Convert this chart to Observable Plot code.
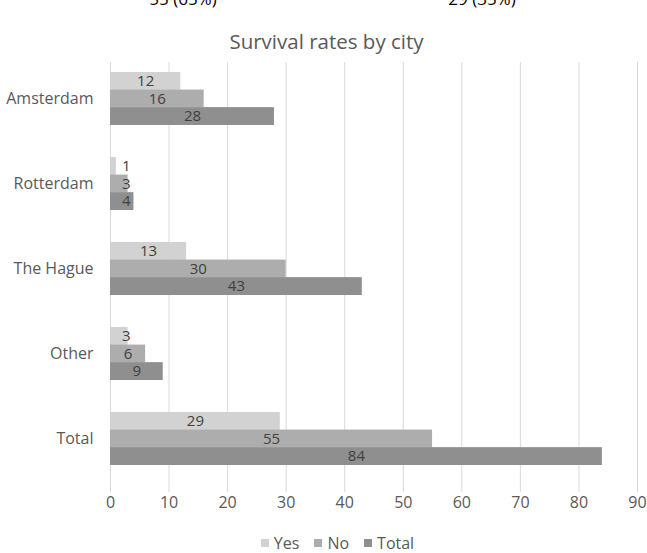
<!DOCTYPE html>
<html>
<head>
<meta charset="utf-8">
<script src="https://cdn.jsdelivr.net/npm/d3@7"></script>
<script src="https://cdn.jsdelivr.net/npm/@observablehq/plot@0.6"></script>
<style>
  html, body { margin: 0; padding: 0; background: #fff; }
  #wrap { position: relative; width: 647px; height: 553px; overflow: hidden; font-family: "Open Sans", sans-serif; }
  .cut { position: absolute; top: -13px; font-size: 17px; color: #000; transform: translateX(-50%); white-space: nowrap; }
  #title { position: absolute; top: 27px; left: 3px; width: 647px; text-align: center; font-size: 20.5px; color: #595959; }
  #chart { position: absolute; top: 0; left: 0; }
  #legend { position: absolute; top: 533px; left: 14px; width: 647px; display: flex; justify-content: center; gap: 15px; font-size: 16px; color: #595959; line-height: 20px; }
  #legend span.item { display: flex; align-items: center; }
  #legend i { display: inline-block; width: 8px; height: 8px; margin-right: 5px; }
</style>
</head>
<body>
<div id="wrap">
  <div class="cut" id="cut1"></div>
  <div class="cut" id="cut2"></div>
  <div id="chart"></div>
  <div id="title"></div>
  <div id="legend"></div>
</div>
<script>
const titleText = "Survival rates by city";
const cutLabels = ["55 (65%)", "29 (35%)"];
const cities = ["Amsterdam", "Rotterdam", "The Hague", "Other", "Total"];
const series = ["Yes", "No", "Total"];
const yesValues = [12, 1, 13, 3, 29];
const noValues = [16, 3, 30, 6, 55];
const totalValues = [28, 4, 43, 9, 84];
const xTicks = [0, 10, 20, 30, 40, 50, 60, 70, 80, 90];
const colors = ["#d2d2d2", "#adadad", "#8f8f8f"];

document.getElementById("title").textContent = titleText;
const c1 = document.getElementById("cut1"); c1.textContent = cutLabels[0]; c1.style.left = "183px";
const c2 = document.getElementById("cut2"); c2.textContent = cutLabels[1]; c2.style.left = "482px";

const valuesBySeries = [yesValues, noValues, totalValues];
const data = series.map((s, k) => cities.map((c, i) => ({city: c, series: s, value: valuesBySeries[k][i]})));

const height = 520, marginTop = 55.5, marginBottom = 39.5;
const pInner = 0.38, pOuter = 0.19;
const step = (height - marginTop - marginBottom) / (cities.length - pInner + 2 * pOuter);
const bw = step * (1 - pInner);
const third = bw / 3;

const marks = [
  Plot.ruleX(xTicks, {stroke: "#d9d9d9", strokeWidth: 1, insetTop: 6.5, insetBottom: -11.5}),
  Plot.axisX({ticks: xTicks, tickSize: 0, tickPadding: 16, fontSize: 16, fill: "#595959", label: null}),
  Plot.axisY({tickSize: 0, tickPadding: 17, fontSize: 16, fill: "#595959", label: null})
];
series.forEach((s, k) => {
  marks.push(Plot.barX(data[k], {
    y: "city", x: "value", fill: colors[k],
    insetTop: k * third, insetBottom: (2 - k) * third
  }));
});
series.forEach((s, k) => {
  marks.push(Plot.text(data[k], {
    y: "city", x: d => Math.max(d.value / 2, 2.7), text: d => String(d.value),
    dy: (k - 1) * third, fill: "#404040", fontSize: 15, textAnchor: "middle"
  }));
});

const chart = Plot.plot({
  width: 647, height, marginLeft: 110, marginRight: 10, marginTop, marginBottom,
  style: {fontFamily: "Open Sans", background: "transparent", color: "#595959"},
  x: {domain: [0, 90], axis: null},
  y: {domain: cities, paddingInner: pInner, paddingOuter: pOuter, axis: null},
  marks
});
document.getElementById("chart").appendChild(chart);

const legend = document.getElementById("legend");
series.forEach((s, k) => {
  const item = document.createElement("span");
  item.className = "item";
  const sw = document.createElement("i");
  sw.style.background = colors[k];
  item.appendChild(sw);
  item.appendChild(document.createTextNode(s));
  legend.appendChild(item);
});
</script>
</body>
</html>
